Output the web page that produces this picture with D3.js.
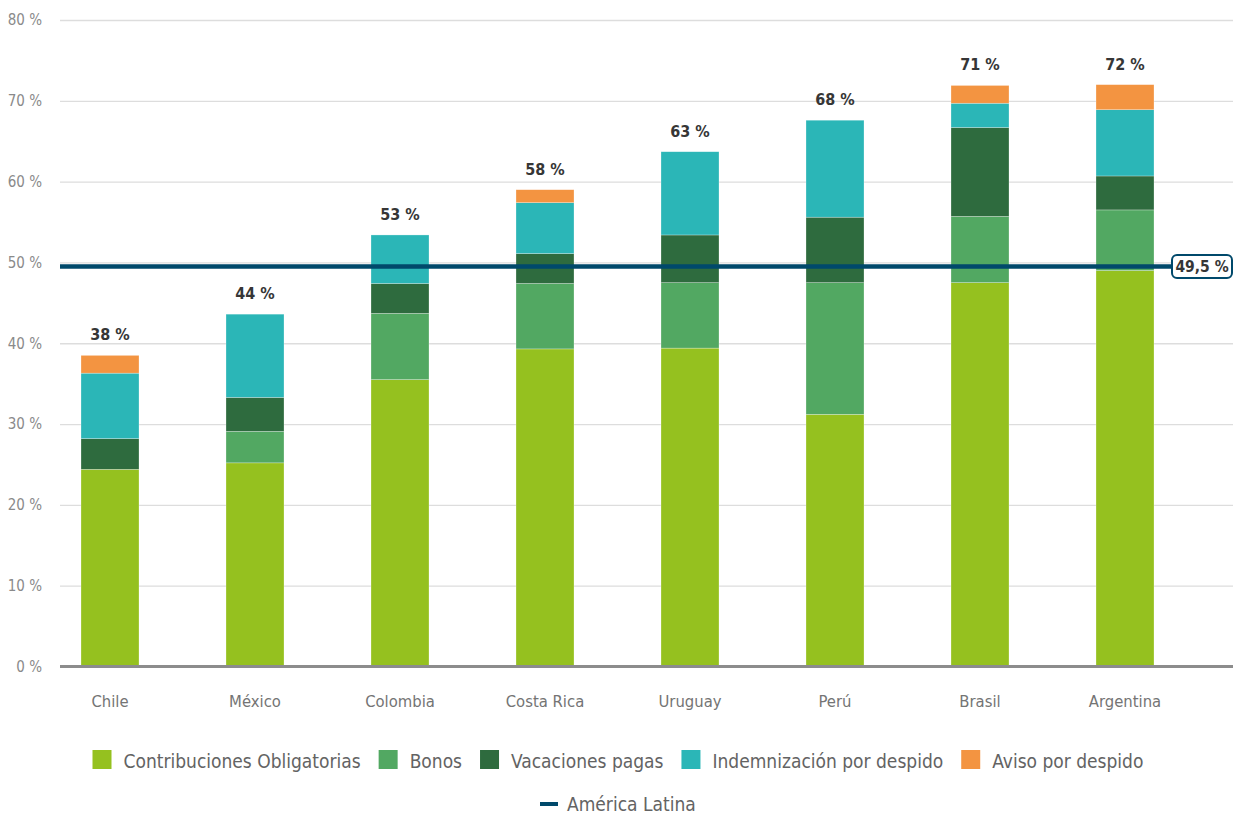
<!DOCTYPE html>
<html>
<head>
<meta charset="utf-8">
<script src="https://cdn.jsdelivr.net/npm/d3@7"></script>
<style>
  body { margin: 0; background: #fff; }
  svg { display: block; }
</style>
</head>
<body>
<svg id="chart" width="1233" height="814"></svg>
<script>
// Costo laboral no salarial como % del salario, por país
const countries = ["Chile", "México", "Colombia", "Costa Rica", "Uruguay", "Perú", "Brasil", "Argentina"];
const contribuciones = [24.4, 25.2, 35.5, 39.3, 39.4, 31.2, 47.5, 49.0];
const bonos          = [0.0,  3.9,  8.2,  8.1,  8.1, 16.3,  8.2,  7.5];
const vacaciones     = [3.8,  4.2,  3.7,  3.7,  5.9,  8.1, 11.0,  4.2];
const indemnizacion  = [8.1, 10.3,  6.0,  6.3, 10.3, 12.0,  3.0,  8.2];
const aviso          = [2.2,  0.0,  0.0,  1.6,  0.0,  0.0,  2.2,  3.1];
const totalLabels    = [38, 44, 53, 58, 63, 68, 71, 72];
const seriesNames = ["Contribuciones Obligatorias", "Bonos", "Vacaciones pagas", "Indemnización por despido", "Aviso por despido"];
const seriesColors = ["#95c11f", "#52a862", "#2e6b3e", "#2bb6b7", "#f39441"];
const latamName = "América Latina";
const latamAverage = 49.5;
const latamLabel = "49,5 %";
const yTicks = [0, 10, 20, 30, 40, 50, 60, 70, 80];

const FONT = "'DejaVu Sans Condensed', 'Liberation Sans', sans-serif";
const svg = d3.select("#chart");
const plotLeft = 60, plotRight = 1233;

const y = d3.scaleLinear().domain([0, 80]).range([666.5, 20]);
const x = d3.scaleBand().domain(countries).range([37.5, 1197.5]).padding(0);
const barWidth = x.bandwidth() * 0.4;

// Gridlines and y tick labels
svg.append("g")
  .attr("transform", `translate(${plotLeft},0)`)
  .call(d3.axisLeft(y).tickValues(yTicks).tickSize(-(plotRight - plotLeft)).tickPadding(18).tickFormat(d => d + " %"))
  .call(g => g.select(".domain").remove())
  .call(g => g.selectAll(".tick line").attr("stroke", "#dddddd").attr("stroke-width", 1.3))
  .call(g => g.selectAll(".tick text")
    .attr("fill", "#8a8a8a").attr("font-size", 15).attr("font-family", FONT));

// Stacked bars
const seriesValues = [contribuciones, bonos, vacaciones, indemnizacion, aviso];
const rows = countries.map((c, i) => {
  const r = { country: c };
  seriesNames.forEach((k, j) => { r[k] = seriesValues[j][i]; });
  return r;
});
const stacked = d3.stack().keys(seriesNames)(rows);

svg.append("g").selectAll("g")
  .data(stacked)
  .join("g")
  .attr("fill", (d, i) => seriesColors[i])
  .selectAll("rect")
  .data(d => d.filter(s => s[1] - s[0] > 0))
  .join("rect")
  .attr("x", d => x(d.data.country) + (x.bandwidth() - barWidth) / 2)
  .attr("width", barWidth)
  .attr("y", d => y(d[1]))
  .attr("height", d => y(d[0]) - y(d[1]))
  .attr("stroke", "rgba(255,255,255,0.45)")
  .attr("stroke-width", 0.6);

// Baseline
svg.append("line")
  .attr("x1", plotLeft).attr("x2", plotRight)
  .attr("y1", y(0)).attr("y2", y(0))
  .attr("stroke", "#8c8c8c").attr("stroke-width", 3);

// Category labels
svg.append("g")
  .attr("transform", `translate(0,${y(0)})`)
  .call(d3.axisBottom(x).tickSize(0).tickPadding(0))
  .call(g => g.select(".domain").remove())
  .call(g => g.selectAll(".tick text")
    .attr("y", 40).attr("dy", 0)
    .attr("fill", "#747474").attr("font-size", 16.5).attr("font-family", FONT));

// Total labels above each bar
const totals = rows.map(r => d3.sum(seriesNames, k => r[k]));
svg.append("g").selectAll("text")
  .data(countries)
  .join("text")
  .attr("x", d => x(d) + x.bandwidth() / 2)
  .attr("y", (d, i) => y(totals[i]) - 15)
  .attr("text-anchor", "middle")
  .attr("font-family", FONT).attr("font-weight", "bold").attr("font-size", 16)
  .attr("fill", "#363636")
  .text((d, i) => totalLabels[i] + " %");

// Latin America average line with its tag
const yAvg = y(latamAverage);
const tagX = 1172, tagW = 60, tagH = 23;
svg.append("line")
  .attr("x1", plotLeft).attr("x2", tagX)
  .attr("y1", yAvg).attr("y2", yAvg)
  .attr("stroke", "#00496b").attr("stroke-width", 4.5);
svg.append("rect")
  .attr("x", tagX).attr("y", yAvg - tagH / 2)
  .attr("width", tagW).attr("height", tagH)
  .attr("rx", 5)
  .attr("fill", "#fff").attr("stroke", "#00496b").attr("stroke-width", 2);
svg.append("text")
  .attr("x", tagX + tagW / 2).attr("y", yAvg + 5.5)
  .attr("text-anchor", "middle")
  .attr("font-family", FONT).attr("font-weight", "bold").attr("font-size", 15.5)
  .attr("fill", "#363636")
  .text(latamLabel);

// Legend
const legend = svg.append("g");
let lx = 92.5;
const sq = 19, legY = 750, legFont = 19;
seriesNames.forEach((name, i) => {
  legend.append("rect")
    .attr("x", lx).attr("y", legY).attr("width", sq).attr("height", sq)
    .attr("fill", seriesColors[i]);
  const t = legend.append("text")
    .attr("x", lx + sq + 12).attr("y", legY + 17.5)
    .attr("font-family", FONT).attr("font-size", legFont).attr("fill", "#636363")
    .text(name);
  lx += sq + 12 + t.node().getComputedTextLength() + 18;
});
legend.append("line")
  .attr("x1", 540).attr("x2", 558)
  .attr("y1", 804).attr("y2", 804)
  .attr("stroke", "#00496b").attr("stroke-width", 4);
legend.append("text")
  .attr("x", 567).attr("y", 810.5)
  .attr("font-family", FONT).attr("font-size", legFont).attr("fill", "#636363")
  .text(latamName);
</script>
</body>
</html>
